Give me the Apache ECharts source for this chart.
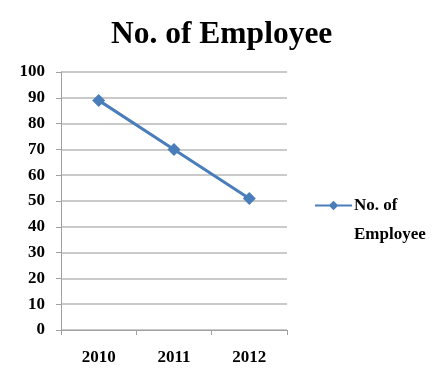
<!DOCTYPE html>
<html><head><meta charset="utf-8">
<script src="https://cdn.jsdelivr.net/npm/echarts@6/dist/echarts.min.js"></script>
<style>html,body{margin:0;padding:0;background:#fff}#c{width:447px;height:387px}</style>
</head><body><div id="c"></div>
<script>
const categories = ['2010', '2011', '2012'];
const employees = [89, 70, 51];
const seriesName = 'No. of Employee';
const chart = echarts.init(document.getElementById('c'));
const serif = '"Liberation Serif", "Times New Roman", serif';
chart.setOption({
  animation: false,
  title: {
    text: 'No. of Employee', left: 106, top: 14,
    textStyle: { fontFamily: serif, fontWeight: 'bold', fontSize: 31.5, color: '#000' }
  },
  legend: {
    left: 310, top: 192, orient: 'vertical', itemWidth: 37, itemHeight: 12,
    formatter: () => 'No. of',
    textStyle: { fontFamily: serif, fontWeight: 'bold', fontSize: 17, color: '#000', padding: [0, 0, 0, -3] },
    data: [{ name: seriesName, icon: 'path://M0,5 L38,5 L38,7 L0,7 Z M19,1 L24,6 L19,11 L14,6 Z' }]
  },
  graphic: [{
    type: 'text', left: 354, top: 226,
    style: { text: 'Employee', fontFamily: serif, fontWeight: 'bold', fontSize: 17, fill: '#000' }
  }],
  grid: { left: 61, right: 160, top: 72, bottom: 57, containLabel: false },
  xAxis: {
    type: 'category', data: categories, boundaryGap: true,
    axisLine: { lineStyle: { color: '#a0a0a0', width: 1 } },
    axisTick: { show: true, length: 5, lineStyle: { color: '#a0a0a0' } },
    axisLabel: { fontFamily: serif, fontWeight: 'bold', fontSize: 17, color: '#000', margin: 19 }
  },
  yAxis: {
    type: 'value', min: 0, max: 100, interval: 10,
    axisLine: { show: true, lineStyle: { color: '#a0a0a0', width: 1 } },
    axisTick: { show: true, length: 5, lineStyle: { color: '#a0a0a0' } },
    splitLine: { lineStyle: { color: '#b8b8b8', width: 1.5 } },
    axisLabel: { fontFamily: serif, fontWeight: 'bold', fontSize: 17, color: '#000', margin: 16 }
  },
  series: [{
    name: seriesName, type: 'line', data: employees,
    symbol: 'diamond', symbolSize: 13,
    lineStyle: { color: '#4a7ebb', width: 3 },
    itemStyle: { color: '#4a7ebb' }
  }]
});
</script></body></html>
